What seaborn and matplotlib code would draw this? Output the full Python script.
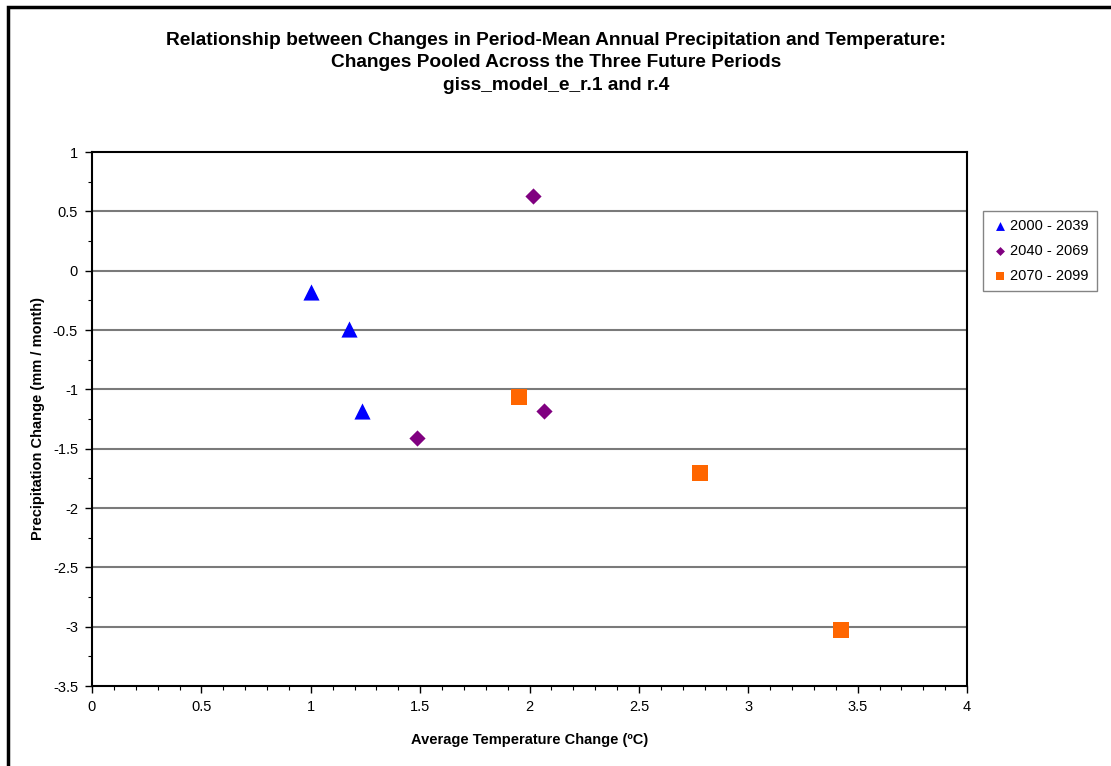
import matplotlib
matplotlib.use("Agg")
import matplotlib.pyplot as plt
from matplotlib.patches import Rectangle
from matplotlib.ticker import MultipleLocator
import seaborn as sns
import pandas as pd

# Period-mean changes, one entry per model run and future period
periods = ["2000 - 2039", "2040 - 2069", "2070 - 2099"]
temp_2000_2039 = [1.00, 1.175, 1.235]
precip_2000_2039 = [-0.18, -0.49, -1.18]
temp_2040_2069 = [2.015, 1.485, 2.065]
precip_2040_2069 = [0.63, -1.41, -1.18]
temp_2070_2099 = [1.95, 2.78, 3.425]
precip_2070_2099 = [-1.065, -1.705, -3.03]

x_ticks = [0, 0.5, 1, 1.5, 2, 2.5, 3, 3.5, 4]
y_ticks = [1, 0.5, 0, -0.5, -1, -1.5, -2, -2.5, -3, -3.5]

title_lines = [
    "Relationship between Changes in Period-Mean Annual Precipitation and Temperature:",
    "Changes Pooled Across the Three Future Periods",
    "giss_model_e_r.1 and r.4",
]

temps = [temp_2000_2039, temp_2040_2069, temp_2070_2099]
precips = [precip_2000_2039, precip_2040_2069, precip_2070_2099]
df = pd.DataFrame({
    "temp": sum(temps, []),
    "precip": sum(precips, []),
    "period": sum([[p] * len(t) for p, t in zip(periods, temps)], []),
})

colors = {"2000 - 2039": "#0000FF", "2040 - 2069": "#800080", "2070 - 2099": "#FF6600"}
markers = {"2000 - 2039": "^", "2040 - 2069": "D", "2070 - 2099": "s"}
sizes = {"2000 - 2039": 135, "2040 - 2069": 68, "2070 - 2099": 118}

sns.set_theme(style="white")
plt.rcParams["font.family"] = ["Liberation Sans", "DejaVu Sans"]
plt.rcParams["text.color"] = "black"
plt.rcParams["axes.labelcolor"] = "black"
plt.rcParams["xtick.color"] = "black"
plt.rcParams["ytick.color"] = "black"

fig = plt.figure(figsize=(11.11, 7.66), dpi=100)
fig.patch.set_facecolor("white")
ax = fig.add_axes([92 / 1111, 1 - 686 / 766, (967 - 92) / 1111, (686 - 152) / 766])

for p in periods:
    sns.scatterplot(data=df[df["period"] == p], x="temp", y="precip",
                    color=colors[p], marker=markers[p], s=sizes[p],
                    linewidth=0, label=p, ax=ax, zorder=3)

ax.set_xlim(0, 4)
ax.set_ylim(-3.5, 1)
ax.set_xticks(x_ticks)
ax.set_xticklabels([f"{v:g}" for v in x_ticks])
ax.set_yticks(y_ticks)
ax.set_yticklabels([f"{v:g}" for v in y_ticks])
ax.xaxis.set_minor_locator(MultipleLocator(0.1))
ax.yaxis.set_minor_locator(MultipleLocator(0.25))
ax.tick_params(axis="both", which="major", direction="out", length=5, width=1,
               color="black", labelcolor="black", labelsize=10.5, pad=5,
               bottom=True, left=True)
ax.tick_params(axis="both", which="minor", direction="out", length=3, width=0.8,
               color="black", bottom=True, left=True)

ax.grid(False)
for v in y_ticks[1:-1]:
    ax.axhline(v, color="#7a7a7a", linewidth=1.5, zorder=1)
for s in ax.spines.values():
    s.set_color("black")
    s.set_linewidth(1.5)

ax.set_xlabel("Average Temperature Change (ºC)", fontsize=10.5, fontweight="bold",
              color="black", labelpad=14)
ax.set_ylabel("Precipitation Change (mm / month)", fontsize=10.5, fontweight="bold",
              color="black", labelpad=6)

# Three-line title, one text per line, placed by baseline
title_x = 556 / 1111
for line, ypix in zip(title_lines, [45, 67, 90]):
    fig.text(title_x, 1 - ypix / 766, line, ha="center", va="baseline",
             fontsize=13.8, fontweight="bold", color="black")

leg = ax.legend(loc="upper left", bbox_to_anchor=(983 / 1111, 1 - 211 / 766),
                bbox_transform=fig.transFigure, frameon=True, fancybox=False,
                fontsize=10.5, markerscale=0.55, handletextpad=0.1, handlelength=1.2,
                borderpad=0.55, labelspacing=0.75, borderaxespad=0)
leg.get_frame().set_edgecolor("#666666")
leg.get_frame().set_linewidth(1.0)
for t in leg.get_texts():
    t.set_color("black")

# Outer chart-area border
fig.patches.append(Rectangle((8 / 1111, -0.1), 1.2, 1 - 7 / 766 + 0.1,
                             transform=fig.transFigure, fill=False,
                             edgecolor="black", linewidth=2.5, zorder=0))

fig.savefig("out.png", dpi=100, facecolor="white")
